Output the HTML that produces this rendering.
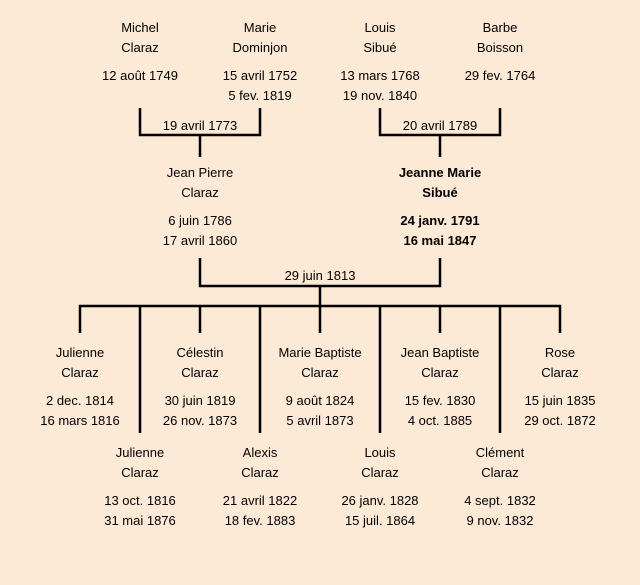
<!DOCTYPE html>
<html><head><meta charset="utf-8"><style>
html,body{margin:0;padding:0}
body{width:640px;height:585px;background:#fce9d6;position:relative;overflow:hidden;font-family:"Liberation Sans",sans-serif;font-size:13px;color:#000}
.t{position:absolute;width:140px;margin-left:-70px;text-align:center;line-height:20px;height:20px;margin-top:-9px;white-space:nowrap}
.b{font-weight:bold}
svg{position:absolute;left:0;top:0}
</style></head><body>
<svg width="640" height="585"><g stroke="#000" stroke-width="2.5" fill="none">
<path d="M140 108V135H260V108M200 135V157"/>
<path d="M380 108V135H500V108M440 135V157"/>
<path d="M200 258V286H440V258M320 286V306"/>
<path d="M80 333V306H560V333M200 306V333M320 306V333M440 306V333"/>
<path d="M140 306V433M260 306V433M380 306V433M500 306V433"/>
</g></svg>
<div class="t" style="left:140px;top:27px">Michel</div>
<div class="t" style="left:140px;top:47px">Claraz</div>
<div class="t" style="left:140px;top:75px">12 août 1749</div>
<div class="t" style="left:260px;top:27px">Marie</div>
<div class="t" style="left:260px;top:47px">Dominjon</div>
<div class="t" style="left:260px;top:75px">15 avril 1752</div>
<div class="t" style="left:260px;top:95px">5 fev. 1819</div>
<div class="t" style="left:380px;top:27px">Louis</div>
<div class="t" style="left:380px;top:47px">Sibué</div>
<div class="t" style="left:380px;top:75px">13 mars 1768</div>
<div class="t" style="left:380px;top:95px">19 nov. 1840</div>
<div class="t" style="left:500px;top:27px">Barbe</div>
<div class="t" style="left:500px;top:47px">Boisson</div>
<div class="t" style="left:500px;top:75px">29 fev. 1764</div>
<div class="t" style="left:200px;top:125px">19 avril 1773</div>
<div class="t" style="left:440px;top:125px">20 avril 1789</div>
<div class="t" style="left:200px;top:172px">Jean Pierre</div>
<div class="t" style="left:200px;top:192px">Claraz</div>
<div class="t" style="left:200px;top:220px">6 juin 1786</div>
<div class="t" style="left:200px;top:240px">17 avril 1860</div>
<div class="t b" style="left:440px;top:172px">Jeanne Marie</div>
<div class="t b" style="left:440px;top:192px">Sibué</div>
<div class="t b" style="left:440px;top:220px">24 janv. 1791</div>
<div class="t b" style="left:440px;top:240px">16 mai 1847</div>
<div class="t" style="left:320px;top:275px">29 juin 1813</div>
<div class="t" style="left:80px;top:352px">Julienne</div>
<div class="t" style="left:80px;top:372px">Claraz</div>
<div class="t" style="left:80px;top:400px">2 dec. 1814</div>
<div class="t" style="left:80px;top:420px">16 mars 1816</div>
<div class="t" style="left:200px;top:352px">Célestin</div>
<div class="t" style="left:200px;top:372px">Claraz</div>
<div class="t" style="left:200px;top:400px">30 juin 1819</div>
<div class="t" style="left:200px;top:420px">26 nov. 1873</div>
<div class="t" style="left:320px;top:352px">Marie Baptiste</div>
<div class="t" style="left:320px;top:372px">Claraz</div>
<div class="t" style="left:320px;top:400px">9 août 1824</div>
<div class="t" style="left:320px;top:420px">5 avril 1873</div>
<div class="t" style="left:440px;top:352px">Jean Baptiste</div>
<div class="t" style="left:440px;top:372px">Claraz</div>
<div class="t" style="left:440px;top:400px">15 fev. 1830</div>
<div class="t" style="left:440px;top:420px">4 oct. 1885</div>
<div class="t" style="left:560px;top:352px">Rose</div>
<div class="t" style="left:560px;top:372px">Claraz</div>
<div class="t" style="left:560px;top:400px">15 juin 1835</div>
<div class="t" style="left:560px;top:420px">29 oct. 1872</div>
<div class="t" style="left:140px;top:452px">Julienne</div>
<div class="t" style="left:140px;top:472px">Claraz</div>
<div class="t" style="left:140px;top:500px">13 oct. 1816</div>
<div class="t" style="left:140px;top:520px">31 mai 1876</div>
<div class="t" style="left:260px;top:452px">Alexis</div>
<div class="t" style="left:260px;top:472px">Claraz</div>
<div class="t" style="left:260px;top:500px">21 avril 1822</div>
<div class="t" style="left:260px;top:520px">18 fev. 1883</div>
<div class="t" style="left:380px;top:452px">Louis</div>
<div class="t" style="left:380px;top:472px">Claraz</div>
<div class="t" style="left:380px;top:500px">26 janv. 1828</div>
<div class="t" style="left:380px;top:520px">15 juil. 1864</div>
<div class="t" style="left:500px;top:452px">Clément</div>
<div class="t" style="left:500px;top:472px">Claraz</div>
<div class="t" style="left:500px;top:500px">4 sept. 1832</div>
<div class="t" style="left:500px;top:520px">9 nov. 1832</div>
</body></html>
